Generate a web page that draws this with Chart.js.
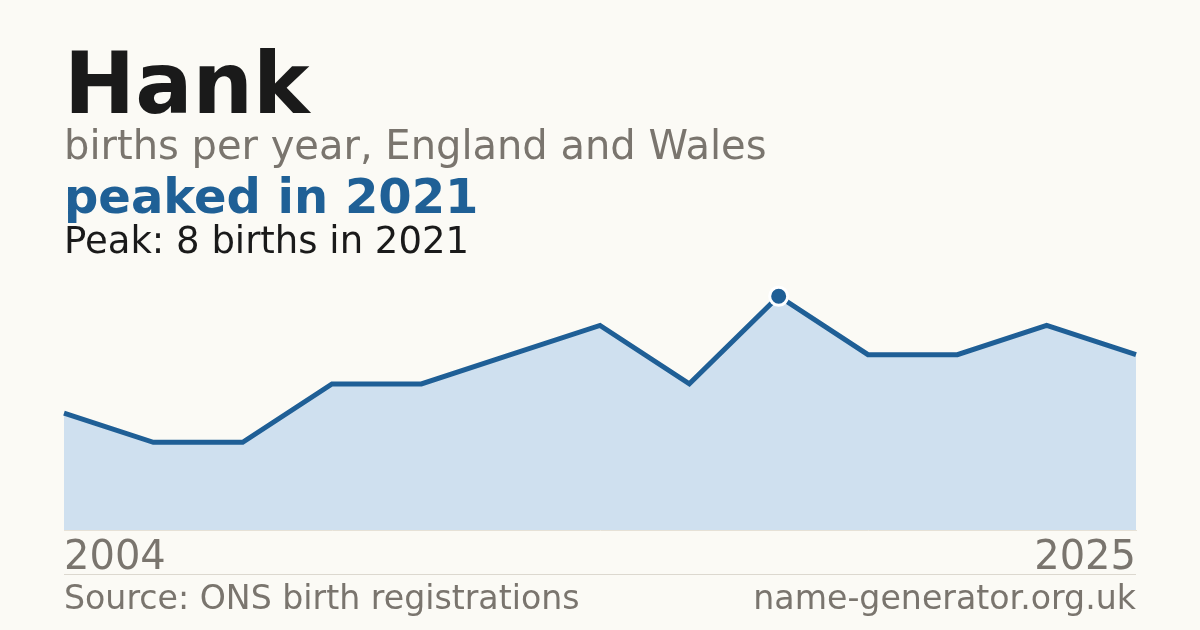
<!DOCTYPE html>
<html>
<head>
<meta charset="utf-8">
<script src="https://cdn.jsdelivr.net/npm/chart.js@4.4.1/dist/chart.umd.min.js"></script>
<style>
  html, body { margin:0; padding:0; background:#fbfaf5; }
  #wrap { position:relative; width:1200px; height:630px; overflow:hidden; font-family:"DejaVu Sans", sans-serif; }
  #wrap canvas { position:absolute; left:0; top:0; }
  .t { position:absolute; left:64px; line-height:1; white-space:nowrap; }
  #name { top:41px; font-size:85px; font-weight:bold; color:#1a1a1a; }
  #sub { top:125px; font-size:40px; color:#7a756e; }
  #headline { top:172px; font-size:48px; font-weight:bold; color:#1f6096; }
  #peak { top:222px; font-size:37px; color:#1a1a1a; }
  #rule { position:absolute; left:64px; width:1072px; top:574px; height:1px; background:#dcd8cf; }
  .foot { top:581px; font-size:33.2px; color:#7a756e; }
  #site { left:auto; right:64px; }
</style>
</head>
<body>
<div id="wrap">
  <canvas id="chart" width="1200" height="630"></canvas>
  <div class="t" id="name">Hank</div>
  <div class="t" id="sub">births per year, England and Wales</div>
  <div class="t" id="headline">peaked in 2021</div>
  <div class="t" id="peak">Peak: 8 births in 2021</div>
  <div id="rule"></div>
  <div class="t foot" id="source">Source: ONS birth registrations</div>
  <div class="t foot" id="site">name-generator.org.uk</div>
</div>
<script>
var years = ["2004","2006","2009","2011","2013","2015","2018","2020","2021","2022","2023","2024","2025"];
var births = [4, 3, 3, 5, 5, 6, 7, 5, 8, 6, 6, 7, 6];
var peakIndex = 8;

var blue = "#1f5f96";
var fillBlue = "#cfe0ef";
var gray = "#7a756e";

var radii = births.map(function(v, i){ return i == peakIndex ? 9 : 0; });

new Chart(document.getElementById("chart"), {
  type: "line",
  data: {
    labels: years,
    datasets: [{
      data: births,
      borderColor: blue,
      borderWidth: 5,
      backgroundColor: fillBlue,
      fill: "origin",
      tension: 0,
      pointRadius: radii,
      pointHoverRadius: radii,
      pointBackgroundColor: blue,
      pointBorderColor: "#ffffff",
      pointBorderWidth: 3
    }]
  },
  options: {
    responsive: false,
    animation: false,
    layout: { padding: { left: 64, right: 64, top: 267, bottom: 42 } },
    plugins: { legend: { display: false }, tooltip: { enabled: false } },
    scales: {
      x: {
        grid: { display: false, drawTicks: false },
        border: { display: true, color: "#e6e1d6", width: 1 },
        ticks: {
          autoSkip: false,
          maxRotation: 0,
          align: "inner",
          padding: 5,
          color: gray,
          font: { family: "DejaVu Sans", size: 40 },
          callback: function(v, i, t){
            return (i == 0 || i == t.length - 1) ? this.getLabelForValue(v) : "";
          }
        }
      },
      y: { display: false, min: 0, max: 9 }
    }
  }
});
</script>
</body>
</html>
